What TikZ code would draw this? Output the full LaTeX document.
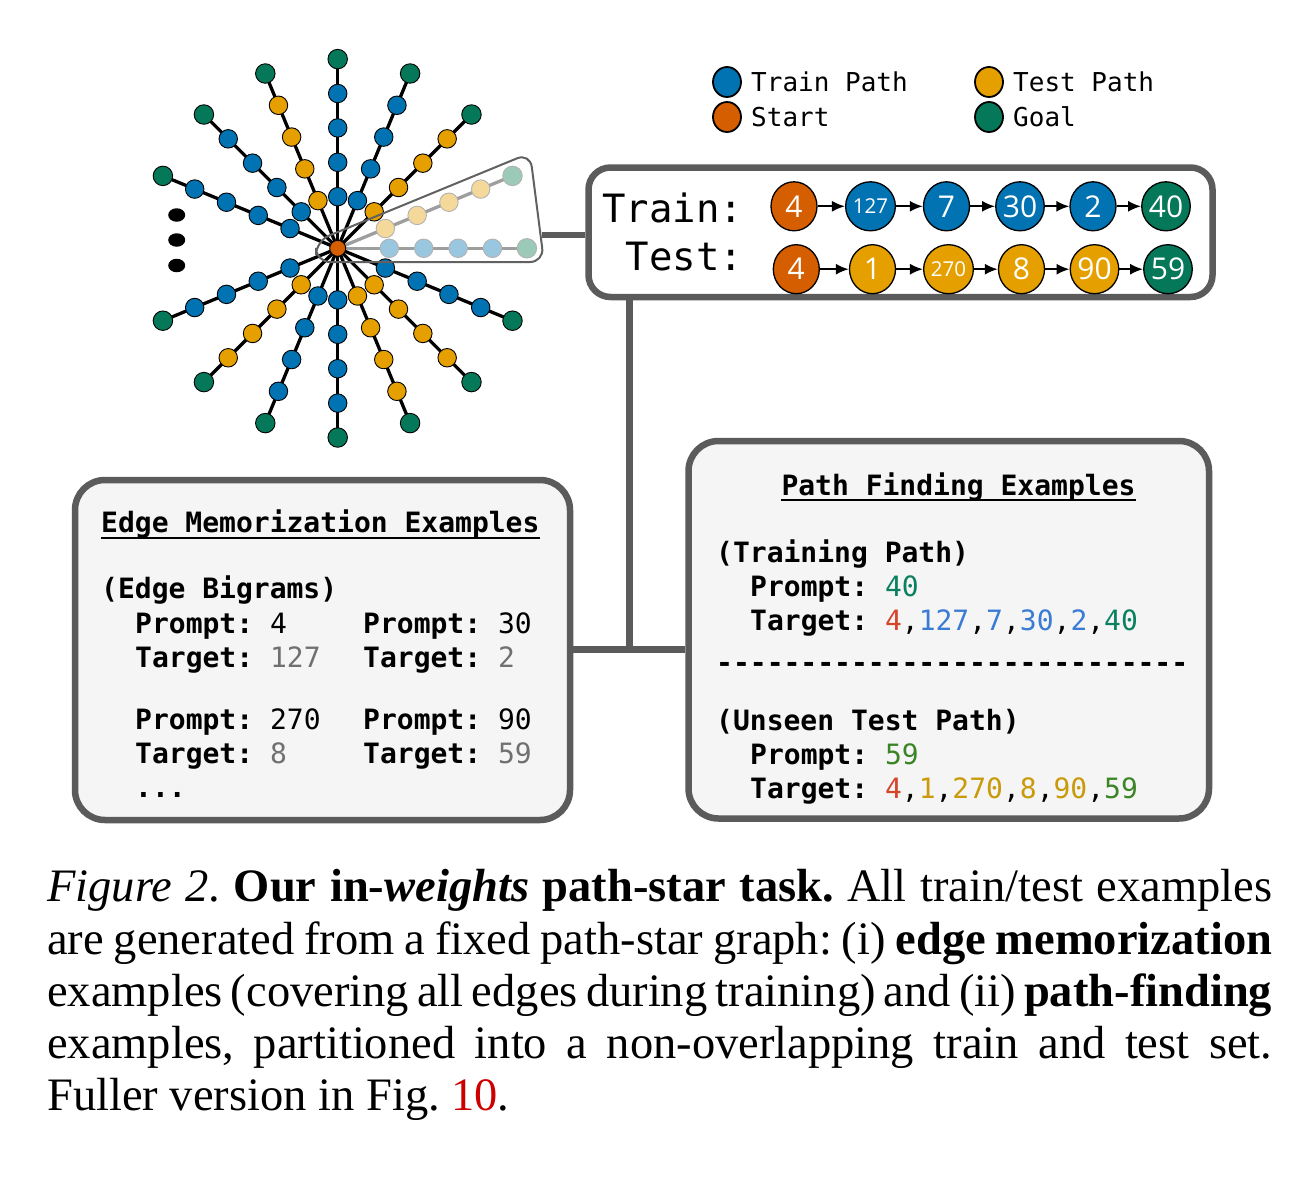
\documentclass[tikz,border=0pt]{standalone}
\usepackage{fontspec}
\setmainfont{Liberation Serif}
\setmonofont{DejaVu Sans Mono}
\newfontfamily\numfont{Open Sans}
\usetikzlibrary{arrows.meta,shapes.geometric,calc,backgrounds}

\definecolor{cTrain}{HTML}{0173B2}
\definecolor{cTest}{HTML}{E5A000}
\definecolor{cStart}{HTML}{D55E00}
\definecolor{cGoal}{HTML}{06785A}
\definecolor{lTrain}{HTML}{99C7E0}
\definecolor{lTest}{HTML}{F5D99A}
\definecolor{lGoal}{HTML}{9BCBB8}
\definecolor{boxline}{HTML}{5B5B5B}
\definecolor{boxfill}{HTML}{F5F5F5}
\definecolor{tRed}{HTML}{D5452C}
\definecolor{tBlue}{HTML}{3A7BD5}
\definecolor{tGreen}{HTML}{0B8060}
\definecolor{tOlive}{HTML}{3B8526}
\definecolor{tYel}{HTML}{C99A0A}
\definecolor{tGray}{HTML}{707070}
\definecolor{capred}{HTML}{CC0000}

\begin{document}
\frenchspacing
\begin{tikzpicture}[x=1pt,y=-1pt,
  pn/.style={circle,draw=black,line width=0.9pt,minimum size=18.5pt,inner sep=0pt},
  tr/.style={pn,fill=cTrain},
  ts/.style={pn,fill=cTest},
  gl/.style={pn,fill=cGoal,minimum size=19.5pt},
  hb/.style={pn,draw=black!30,fill=lTrain},
  hy/.style={pn,draw=black!30,fill=lTest},
  hg/.style={pn,draw=black!30,fill=lGoal,minimum size=19.5pt},
  st/.style={pn,fill=cStart,minimum size=16pt},
  sp/.style={line width=3.3pt,black},
  hsp/.style={line width=3.3pt,black!38},
  dotmark/.style={ellipse,fill=black,minimum width=17pt,minimum height=13.5pt,inner sep=0pt},
  leg/.style={ellipse,draw=black,line width=1.8pt,minimum width=28pt,minimum height=30pt,inner sep=0pt},
  legtxt/.style={anchor=base west,inner sep=0pt,font=\ttfamily\fontsize{26}{30}\selectfont},
  bigtxt/.style={anchor=base west,inner sep=0pt,font=\ttfamily\fontsize{39}{44}\selectfont},
  pnode/.style={ellipse,draw=black,line width=1.3pt,minimum width=46pt,minimum height=49pt,inner sep=0pt,text=white,font=\numfont\fontsize{30}{31}\selectfont},
  smallnum/.style={font=\numfont\fontsize{20.5}{21}\selectfont},
  arr/.style={-{Latex[length=13pt,width=11pt]},line width=2pt},
  conn/.style={draw=boxline,line width=6.5pt},
  bx/.style={draw=boxline,line width=6.5pt,rounded corners=30pt,fill=boxfill,inner sep=0pt},
  mono/.style={anchor=base west,inner sep=0pt,font=\ttfamily\fontsize{28}{34}\selectfont},
  uline/.style={line width=2pt,black},
  captxt/.style={anchor=base west,inner sep=0pt,font=\fontsize{46.5}{52}\selectfont}
]
\useasboundingbox (0,0) rectangle (1298,1178);

% ---------- star graph ----------
\node[st] (c) at (337.7,248.3) {};
\foreach \a/\t/\g [count=\n] in {0/hb/hg, 22.5/hy/hg, 45/ts/gl, 67.5/tr/gl, 90/tr/gl, 112.5/ts/gl, 135/tr/gl, 157.5/tr/gl, 202.5/tr/gl, 225/ts/gl, 247.5/tr/gl, 270/tr/gl, 292.5/ts/gl, 315/ts/gl, 337.5/tr/gl}{
  \foreach \k in {1,2,3,4}{
    \pgfmathsetmacro{\dd}{17.2+34.4*\k}
    \node[\t] (s\n-\k) at ($(c)+(\a:\dd pt)$) {};
  }
  \node[\g] (s\n-5) at ($(c)+(\a:189.2pt)$) {};
}
\begin{scope}[on background layer]
\foreach \e [count=\n] in {hsp,hsp,sp,sp,sp,sp,sp,sp,sp,sp,sp,sp,sp,sp,sp}{
  \draw[\e] (c.center) -- (s\n-1.center) -- (s\n-2.center) -- (s\n-3.center) -- (s\n-4.center) -- (s\n-5.center);
}
\end{scope}
\node[dotmark] (d1) at (176.7,215) {};
\node[dotmark] (d2) at (176.7,240) {};
\node[dotmark] (d3) at (176.7,265.5) {};

% highlight funnel
\draw[line width=2pt,black!62,rounded corners=14pt] (316,241) -- (530,153) -- (544,262) -- (316,262) -- cycle;
\coordinate (fr) at (542,235);

% ---------- legend ----------
\node[leg,fill=cTrain] (lg1) at (727,82) {};
\node[legtxt] (lt1) at (751,91.5) {Train Path};
\node[leg,fill=cTest] (lg2) at (989,82) {};
\node[legtxt] (lt2) at (1013,91.5) {Test Path};
\node[leg,fill=cStart] (lg3) at (727,117) {};
\node[legtxt] (lt3) at (751,126) {Start};
\node[leg,fill=cGoal] (lg4) at (989,117) {};
\node[legtxt] (lt4) at (1013,126) {Goal};

% ---------- train / test box ----------
\node[draw=boxline,line width=6.5pt,rounded corners=22pt,fill=white,minimum width=624pt,minimum height=129.5pt,inner sep=0pt] (tbox) at (900.5,232.25) {};
\node[bigtxt] (ttrain) at (602,222.7) {Train:};
\node[bigtxt] (ttest) at (625.5,270) {Test:};

\node[pnode,fill=cStart] (a1) at (794,206.3) {4};
\node[pnode,fill=cTrain,smallnum] (a2) at (870.5,206.3) {127};
\node[pnode,fill=cTrain] (a3) at (946.5,206.3) {7};
\node[pnode,fill=cTrain] (a4) at (1020,206.3) {30};
\node[pnode,fill=cTrain] (a5) at (1093,206.3) {2};
\node[pnode,fill=cGoal] (a6) at (1166,206.3) {40};

\node[pnode,fill=cStart] (b1) at (796.3,269.2) {4};
\node[pnode,fill=cTest] (b2) at (872.5,269.2) {1};
\node[pnode,fill=cTest,smallnum] (b3) at (948.5,269.2) {270};
\node[pnode,fill=cTest] (b4) at (1021.5,269.2) {8};
\node[pnode,fill=cTest] (b5) at (1094.5,269.2) {90};
\node[pnode,fill=cGoal] (b6) at (1168,269.2) {59};

\foreach \p/\q in {a1/a2,a2/a3,a3/a4,a4/a5,a5/a6,b1/b2,b2/b3,b3/b4,b4/b5,b5/b6}{
  \draw[arr] (\p) -- (\q);
}

% ---------- example boxes ----------
\node[bx,minimum width=495pt,minimum height=340pt] (ebox) at (322.5,650) {};
\node[bx,minimum width=520.5pt,minimum height=377.5pt] (pbox) at (948.75,629.75) {};

% connectors
\draw[conn] (fr) -- (fr -| tbox.west);
\coordinate (vtop) at (629.3,297);
\coordinate (vj) at (629.3,649.3);
\draw[conn] (vtop) -- (vj);
\draw[conn] (ebox.east |- vj) -- (vj -| pbox.west);

% edge memorization text
\node[mono] (etitle) at (101,532.5) {\bfseries Edge Memorization Examples};
\draw[uline] ([yshift=-5pt]etitle.base west) -- ([yshift=-5pt]etitle.base east);
\node[mono] (ebig) at (101,598.5) {\bfseries (Edge Bigrams)};
\node[mono] (ep1) at (135,633.5) {\textbf{Prompt:} 4};
\node[mono] (eq1) at (135,667) {\textbf{Target:} \textcolor{tGray}{127}};
\node[mono] (ep2) at (363,633.5) {\textbf{Prompt:} 30};
\node[mono] (eq2) at (363,667) {\textbf{Target:} \textcolor{tGray}{2}};
\node[mono] (ep3) at (135,729.5) {\textbf{Prompt:} 270};
\node[mono] (eq3) at (135,763) {\textbf{Target:} \textcolor{tGray}{8}};
\node[mono] (ep4) at (363,729.5) {\textbf{Prompt:} 90};
\node[mono] (eq4) at (363,763) {\textbf{Target:} \textcolor{tGray}{59}};
\node[mono] (edots) at (135,797) {\textbf{...}};

% path finding text
\node[mono,anchor=base] (ptitle) at (958.5,495) {\bfseries Path Finding Examples};
\draw[uline] ([yshift=-5pt]ptitle.base west) -- ([yshift=-5pt]ptitle.base east);
\node[mono] (ptr) at (716,562) {\bfseries (Training Path)};
\node[mono] (pp1) at (750,596) {\textbf{Prompt:} \textcolor{tGreen}{40}};
\node[mono] (pq1) at (750,630) {\textbf{Target:} \textcolor{tRed}{4},\textcolor{tBlue}{127},\textcolor{tBlue}{7},\textcolor{tBlue}{30},\textcolor{tBlue}{2},\textcolor{tGreen}{40}};
\node[mono] (pdash) at (716,672) {\bfseries -{}-{}-{}-{}-{}-{}-{}-{}-{}-{}-{}-{}-{}-{}-{}-{}-{}-{}-{}-{}-{}-{}-{}-{}-{}-{}-{}-{}};
\node[mono] (pun) at (716,730) {\bfseries (Unseen Test Path)};
\node[mono] (pp2) at (750,764) {\textbf{Prompt:} \textcolor{tOlive}{59}};
\node[mono] (pq2) at (750,798) {\textbf{Target:} \textcolor{tRed}{4},\textcolor{tYel}{1},\textcolor{tYel}{270},\textcolor{tYel}{8},\textcolor{tYel}{90},\textcolor{tOlive}{59}};

% ---------- caption ----------
\node[captxt] (cap1) at (47,901) {\makebox[1225pt][s]{\textit{Figure 2}. \textbf{Our in-\textit{weights} path-star task.} All train/test examples}};
\node[captxt] (cap2) at (47,954) {\makebox[1225pt][s]{are generated from a fixed path-star graph: (i) \textbf{edge memorization}}};
\node[captxt] (cap3) at (47,1006) {\makebox[1225pt][s]{examples (covering all edges during training) and (ii) \textbf{path-finding}}};
\node[captxt] (cap4) at (47,1058) {\makebox[1225pt][s]{examples, partitioned into a non-overlapping train and test set.}};
\node[captxt] (cap5) at (47,1110) {Fuller version in Fig. \textcolor{capred}{10}.};
\end{tikzpicture}
\end{document}
